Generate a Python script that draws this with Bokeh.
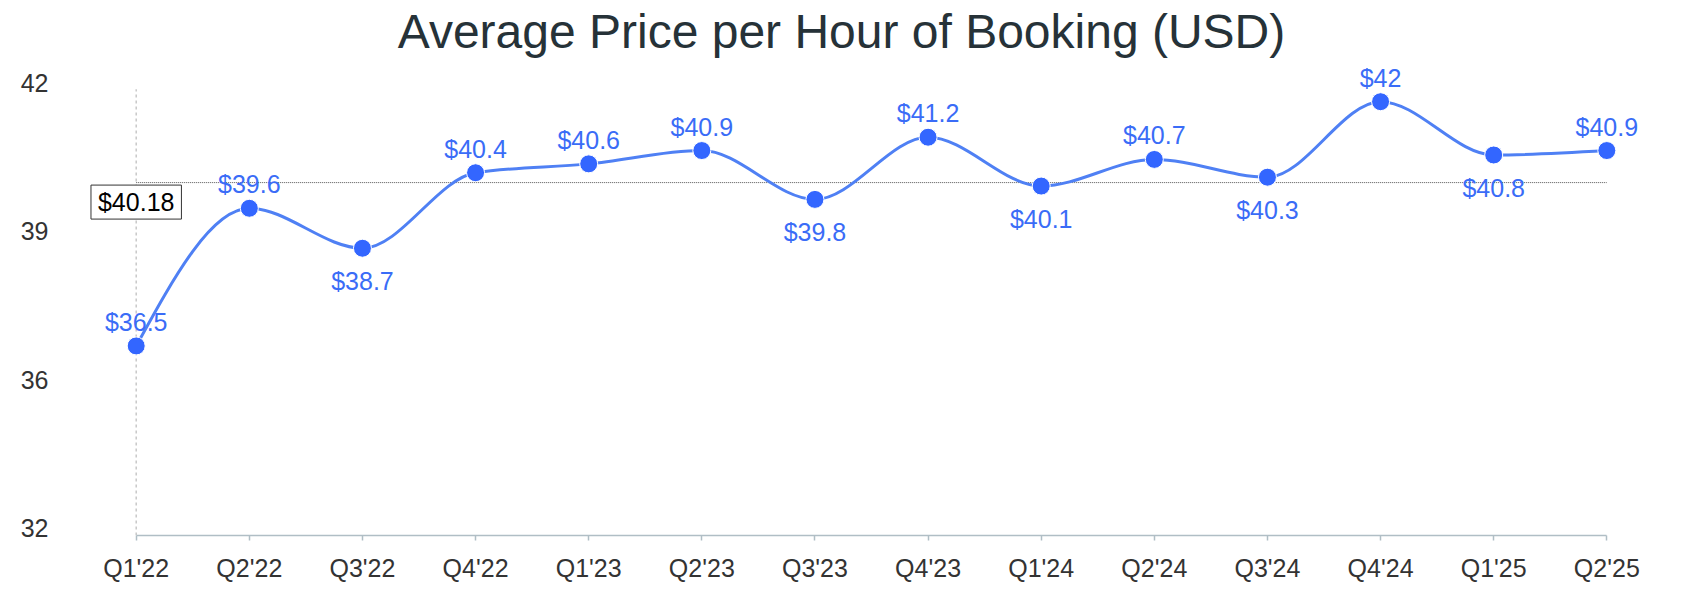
import numpy as np
from bokeh.plotting import figure
from bokeh.models import Range1d, FixedTicker, ColumnDataSource, Label
from bokeh.core.properties import value
from bokeh.embed import file_html
from bokeh.resources import INLINE

# ---- data ----
quarters = ["Q1'22", "Q2'22", "Q3'22", "Q4'22", "Q1'23", "Q2'23", "Q3'23",
            "Q4'23", "Q1'24", "Q2'24", "Q3'24", "Q4'24", "Q1'25", "Q2'25"]
prices = [36.5, 39.6, 38.7, 40.4, 40.6, 40.9, 39.8, 41.2, 40.1, 40.7, 40.3, 42.0, 40.8, 40.9]
y_tick_values = [32.39, 35.73, 39.08, 42.42]
y_tick_labels = ["32", "36", "39", "42"]
title_text = "Average Price per Hour of Booking (USD)"

# ---- derived ----
n = len(quarters)
xs = np.arange(n, dtype=float)
ys = np.array(prices, dtype=float)
avg = float(np.mean(ys))
avg_text = f"${avg:.2f}"
price_labels = [f"${v:g}" for v in prices]

# label placement: below for interior local minima, else above
offsets = []
for i in range(n):
    if 0 < i < n - 1 and ys[i] < ys[i - 1] and ys[i] < ys[i + 1]:
        offsets.append(33)
    else:
        offsets.append(-24)

# monotone-x cubic tangents (as d3.curveMonotoneX)
h = np.diff(xs)
s = np.diff(ys) / h
t = np.zeros(n)
for i in range(1, n - 1):
    s0, s1 = s[i - 1], s[i]
    p_ = (s0 * h[i] + s1 * h[i - 1]) / (h[i - 1] + h[i])
    t[i] = (np.sign(s0) + np.sign(s1)) * min(abs(s0), abs(s1), 0.5 * abs(p_))
t[0] = (3 * s[0] - t[1]) / 2
t[-1] = (3 * s[-1] - t[-2]) / 2
dx = h / 3
bez = dict(
    x0=xs[:-1], y0=ys[:-1], x1=xs[1:], y1=ys[1:],
    cx0=xs[:-1] + dx, cy0=ys[:-1] + dx * t[:-1],
    cx1=xs[1:] - dx, cy1=ys[1:] - dx * t[1:],
)

# ---- layout constants ----
X_START, X_END = -0.4924, 13.501
Y_START, Y_END = 32.231, 44.279
AXIS_TOP = 42.28
FONT = "Liberation Sans"
LINE_C = "#4f80f4"
MARK_C = "#3366ff"
TEXT_C = "#3a6cf7"

p = figure(width=1671, height=584, output_backend="svg", toolbar_location=None,
           title=None,
           x_range=Range1d(X_START, X_END), y_range=Range1d(Y_START, Y_END),
           min_border_left=80, min_border_right=8, min_border_top=0, min_border_bottom=47)
p.outline_line_color = None
p.xgrid.visible = False
p.ygrid.visible = False
p.background_fill_color = "white"
p.border_fill_color = "white"

# chart title (screen units, relative to the plot frame)
p.add_layout(Label(x=761, y=504, x_units="screen", y_units="screen", text=title_text,
                   text_align="center", text_baseline="middle", text_font=FONT,
                   text_font_size="48px", text_color="#263238"))

xa = p.xaxis[0]
xa.ticker = FixedTicker(ticks=list(range(n)))
xa.major_label_overrides = {i: q for i, q in enumerate(quarters)}
xa.bounds = (0, n - 1)
xa.axis_line_color = "#b0bec5"
xa.axis_line_width = 1.5
xa.major_tick_line_color = "#b0bec5"
xa.major_tick_line_width = 1.5
xa.major_tick_out = 5
xa.major_tick_in = 0
xa.minor_tick_line_color = None
xa.major_label_text_font = FONT
xa.major_label_text_font_size = "25px"
xa.major_label_text_color = "#333333"
xa.major_label_standoff = 13

ya = p.yaxis[0]
ya.ticker = FixedTicker(ticks=y_tick_values)
ya.major_label_overrides = {v: l for v, l in zip(y_tick_values, y_tick_labels)}
ya.axis_line_color = None
ya.major_tick_line_color = None
ya.minor_tick_line_color = None
ya.major_label_text_font = FONT
ya.major_label_text_font_size = "25px"
ya.major_label_text_color = "#333333"
ya.major_label_standoff = 26

# dotted y axis line
p.segment(x0=[0], y0=[Y_START], x1=[0], y1=[AXIS_TOP], line_color="#c8c8c8",
          line_width=1.5, line_dash="3 3")
# average line
p.segment(x0=[0], y0=[avg], x1=[n - 1], y1=[avg], line_color="#555555",
          line_width=1, line_dash="1 1")

p.bezier(source=ColumnDataSource(bez), x0="x0", y0="y0", x1="x1", y1="y1",
         cx0="cx0", cy0="cy0", cx1="cx1", cy1="cy1", line_color=LINE_C, line_width=3)

src = ColumnDataSource(dict(x=xs, y=ys, label=price_labels, yoff=offsets))
p.scatter("x", "y", source=src, size=18, fill_color=MARK_C, line_color="white",
          line_width=1)
p.text("x", "y", text="label", source=src, text_align="center", text_baseline="middle",
       y_offset="yoff", text_font=value(FONT), text_font_size="25px", text_color=TEXT_C)

p.add_layout(Label(x=0, y=avg, text=avg_text, text_align="center", text_baseline="top",
                   y_offset=-2.5, text_font=FONT, text_font_size="25px", text_color="black",
                   border_line_color="#333333", border_line_width=1,
                   background_fill_color="white", padding=(7, 3)))

open("out.html", "w").write(file_html(p, INLINE))
